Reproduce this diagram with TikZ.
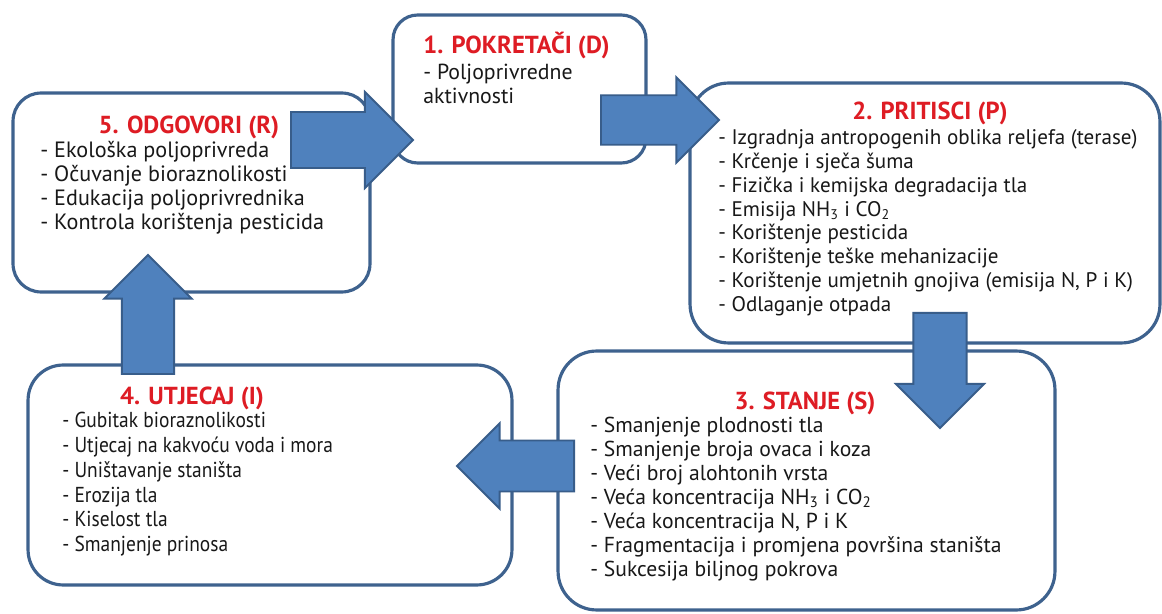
\documentclass[tikz,border=0pt]{standalone}
\usepackage{fontspec}
\setmainfont{PT Sans}
\usepackage{graphicx}
\usepackage{tikz}
\usetikzlibrary{
  shapes.arrows,
  positioning
}
\definecolor{framecolor}{RGB}{62, 98, 142}
\definecolor{arrowfill}{RGB}{79, 129, 189}
\definecolor{arrowdraw}{RGB}{56, 93, 138}
\definecolor{titlecolor}{RGB}{222, 28, 36}
\definecolor{itemcolor}{RGB}{24, 24, 24}
\tikzset{
stagebox/.style={
  draw=framecolor,
  line width=1.8pt,
  fill=white,
  rounded corners=#1,
  inner sep=0pt
},
stagebox/.default=15pt,
stagetitle/.style={
  font=\bfseries\fontsize{14}{16}\selectfont,
  text=titlecolor,
  inner sep=0pt
},
itemlist/.style={
  font=\fontsize{#1}{13.6}\selectfont,
  text=itemcolor,
  align=left,
  anchor=north west,
  inner sep=0pt
},
itemlist/.default=12.2,
blockarrow/.style={
  single arrow,
  draw=arrowdraw,
  fill=arrowfill,
  line width=1.1pt,
  single arrow head extend=0.3cm,
  inner xsep=0pt,
  anchor=tail
}
}

\begin{document}
\begin{tikzpicture}[x=0.02cm, y=-0.02cm]
\useasboundingbox[fill=white] (0,0) rectangle (1162,614);

\node[stagebox=14pt, minimum width=5.06cm, minimum height=2.96cm] (pokretaci) at (519.5,89) {};
\node[stagebox=16pt, minimum width=7.14cm, minimum height=3.98cm] (odgovori) at (191.5,192.5) {};
\node[stagebox=22pt, minimum width=9.4cm, minimum height=5.2cm] (pritisci) at (925,213) {};
\node[stagebox=22pt, minimum width=9.94cm, minimum height=5.18cm] (stanje) at (806.5,480.5) {};
\node[stagebox=20pt, minimum width=9.68cm, minimum height=4.4cm] (utjecaj) at (270,475) {};

\node[stagetitle, anchor=west] (tPokretaci) at (423,46) {1. POKRETAČI (D)};
\node[itemlist=12.4] (lPokretaci) at (423,64) {- Poljoprivredne\\aktivnosti};

\node[stagetitle] (tOdgovori) at (189,127) {5. ODGOVORI (R)};
\node[itemlist=12.6] (lOdgovori) at (40,141) {- Ekološka poljoprivreda\\- Očuvanje bioraznolikosti\\- Edukacija poljoprivrednika\\- Kontrola korištenja pesticida};

\node[stagetitle] (tPritisci) at (930,113) {2. PRITISCI (P)};
\node[itemlist=12] (lPritisci) at (718,129) {- Izgradnja antropogenih oblika reljefa (terase)\\- Krčenje i sječa šuma\\- Fizička i kemijska degradacija tla\\- Emisija NH\textsubscript{3} i CO\textsubscript{2}\\- Korištenje pesticida\\- Korištenje teške mehanizacije\\- Korištenje umjetnih gnojiva (emisija N, P i K)\\- Odlaganje otpada};

\node[stagetitle] (tStanje) at (805,403) {3. STANJE (S)};
\node[itemlist=12.3] (lStanje) at (590,417) {- Smanjenje plodnosti tla\\- Smanjenje broja ovaca i koza\\- Veći broj alohtonih vrsta\\- Veća koncentracija NH\textsubscript{3} i CO\textsubscript{2}\\- Veća koncentracija N, P i K\\- Fragmentacija i promjena površina staništa\\- Sukcesija biljnog pokrova};

\node[stagetitle] (tUtjecaj) at (192,398) {4. UTJECAJ (I)};
\node[itemlist=12.3] (lUtjecaj) at (62,410) {\scalebox{0.9}[1]{\fontsize{12.3}{14.1}\selectfont\begin{tabular}{@{}l@{}}- Gubitak bioraznolikosti\\- Utjecaj na kakvoću voda i mora\\- Uništavanje staništa\\- Erozija tla\\- Kiselost tla\\- Smanjenje prinosa\end{tabular}}};

\node[blockarrow, minimum height=2.44cm, minimum width=1.92cm, inner ysep=0.4cm] (arrOdgPok) at (290,140) {};
\node[blockarrow, minimum height=2.36cm, minimum width=1.7cm, inner ysep=0.4cm] (arrPokPri) at (600,120) {};
\node[blockarrow, rotate=-90, minimum height=2.3cm, minimum width=1.76cm, inner ysep=0.44cm] (arrPriSta) at (940,312) {};
\node[blockarrow, rotate=180, minimum height=2.34cm, minimum width=1.7cm, inner ysep=0.43cm] (arrStaUtj) at (575,466) {};
\node[blockarrow, rotate=90, minimum height=2.38cm, minimum width=1.74cm, inner ysep=0.43cm] (arrUtjOdg) at (148,375) {};
\end{tikzpicture}
\end{document}
